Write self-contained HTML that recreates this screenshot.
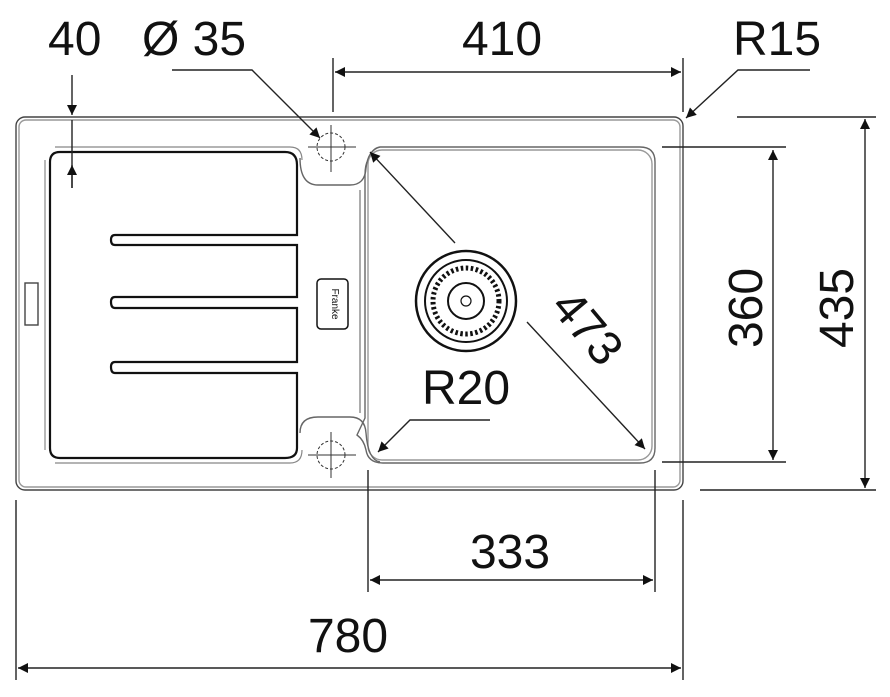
<!DOCTYPE html>
<html><head><meta charset="utf-8"><style>
html,body{margin:0;padding:0;background:#fff;}
svg{display:block;}
text{font-family:"Liberation Sans",Arial,sans-serif;fill:#111;}
</style></head><body>
<svg width="890" height="697" viewBox="0 0 890 697" xmlns="http://www.w3.org/2000/svg">
<defs>
<marker id="a" viewBox="0 0 10 10" refX="10" refY="5" markerWidth="17" markerHeight="10" orient="auto-start-reverse" markerUnits="userSpaceOnUse"><path d="M0,0 L10,5 L0,10 z" fill="#111"/></marker>
</defs>
<g fill="none" stroke="#444" stroke-width="1.4">
<rect x="16" y="117" width="667" height="373" rx="9"/>
<rect x="19" y="120" width="661" height="367" rx="7" stroke="#999"/>
<rect x="25" y="283" width="13" height="42"/>
<path d="M380,147 H640 Q655,147 655,162 V448 Q655,463 640,463 H383 Q368,463 366,450 Q364,440 357,435 L365,418 V175 Q365,165 368,160 Q372,148 380,147 Z" stroke="#666"/>
<rect x="368" y="150" width="284" height="310" rx="14" stroke="#999"/>
<path d="M300,158 Q300,185 318,185 H350 Q365,185 366,168 Q368,150 380,147" stroke="#666"/>
<path d="M300,433 Q300,417 318,417 H350 Q365,417 366,433 Q368,460 380,462" stroke="#666"/>
<line x1="360" y1="190" x2="360" y2="413" stroke="#888"/>
</g>
<g fill="none" stroke="#111" stroke-width="2.2">
<path d="M60,152 H285 Q297,152 297,165 V235 H115 Q111,235 111,240 Q111,245 115,245 H297 V297 H115 Q111,297 111,302 Q111,308 115,308 H297 V362 H115 Q111,362 111,367 Q111,373 115,373 H297 V448 Q297,458 285,458 H60 Q50,458 50,448 V162 Q50,152 60,152 Z"/>
</g>
<path d="M55,147 H290 Q302,147 302,160 M55,463 H290 Q302,463 302,450 M45,160 V450" fill="none" stroke="#888" stroke-width="1.2"/>
<rect x="317" y="279" width="31" height="50" rx="4" fill="none" stroke="#111" stroke-width="1.5"/>
<text x="332" y="304" font-size="10" text-anchor="middle" transform="rotate(90 332 304)">Franke</text>
<g fill="none" stroke="#333" stroke-width="1" stroke-dasharray="3,2">
<circle cx="331" cy="147" r="14"/>
<circle cx="331" cy="455" r="14"/>
</g>
<g stroke="#333" stroke-width="1">
<line x1="308" y1="147" x2="356" y2="147"/><line x1="331" y1="125" x2="331" y2="172"/>
<line x1="308" y1="455" x2="356" y2="455"/><line x1="331" y1="432" x2="331" y2="478"/>
</g>
<g fill="none" stroke="#111">
<circle cx="466" cy="301" r="50" stroke-width="2.5"/>
<circle cx="466" cy="301" r="41" stroke-width="2"/>
<circle cx="466" cy="301" r="33" stroke-width="5" stroke-dasharray="2.5,2.5"/>
<circle cx="466" cy="301" r="18" stroke-width="2"/>
<circle cx="466" cy="301" r="5" stroke-width="1.2"/>
</g>
<g stroke="#222" stroke-width="1.4" fill="none">
<line x1="333" y1="58" x2="333" y2="112"/><line x1="683" y1="58" x2="683" y2="112"/>
<line x1="335" y1="72" x2="681" y2="72" marker-start="url(#a)" marker-end="url(#a)"/>
<polyline points="810,70 738,70 686,118" marker-end="url(#a)"/>
<polyline points="172,70 252,70 320,138" marker-end="url(#a)"/>
<line x1="72" y1="75" x2="72" y2="115" marker-end="url(#a)"/>
<line x1="72" y1="120" x2="72" y2="188"/>
<line x1="72" y1="188" x2="72" y2="165" marker-end="url(#a)"/>
<line x1="455" y1="243" x2="370" y2="152" marker-end="url(#a)"/>
<line x1="527" y1="322" x2="645" y2="449" marker-end="url(#a)"/>
<polyline points="490,420 410,420 378,452" marker-end="url(#a)"/>
<line x1="662" y1="147" x2="786" y2="147"/><line x1="662" y1="462" x2="786" y2="462"/>
<line x1="773" y1="150" x2="773" y2="460" marker-start="url(#a)" marker-end="url(#a)"/>
<line x1="737" y1="117" x2="876" y2="117"/><line x1="700" y1="490" x2="876" y2="490"/>
<line x1="865" y1="119" x2="865" y2="488" marker-start="url(#a)" marker-end="url(#a)"/>
<line x1="368" y1="470" x2="368" y2="592"/><line x1="655" y1="470" x2="655" y2="592"/>
<line x1="370" y1="580" x2="653" y2="580" marker-start="url(#a)" marker-end="url(#a)"/>
<line x1="16" y1="500" x2="16" y2="680"/><line x1="683" y1="500" x2="683" y2="680"/>
<line x1="18" y1="668" x2="681" y2="668" marker-start="url(#a)" marker-end="url(#a)"/>
</g>
<g font-size="48">
<text x="48" y="55">40</text>
<text x="142" y="55">Ø 35</text>
<text x="502" y="55" text-anchor="middle">410</text>
<text x="777" y="55" text-anchor="middle">R15</text>
<text x="466" y="404" text-anchor="middle">R20</text>
<text x="510" y="568" text-anchor="middle">333</text>
<text x="348" y="652" text-anchor="middle">780</text>
<text transform="translate(762 308) rotate(-90)" text-anchor="middle">360</text>
<text transform="translate(853 308) rotate(-90)" text-anchor="middle">435</text>
<text transform="translate(575 338) rotate(50)" text-anchor="middle">473</text>
</g>
</svg>
</body></html>
